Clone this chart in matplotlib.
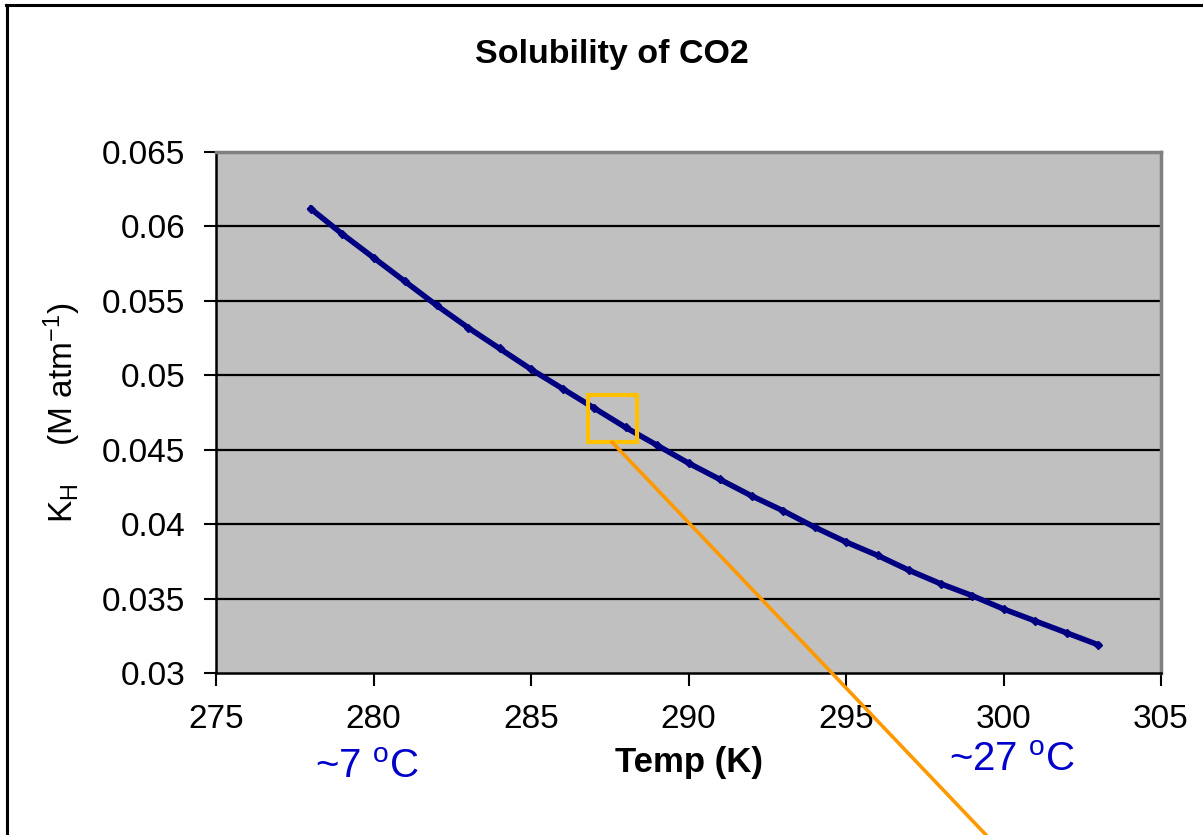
import matplotlib.pyplot as plt
from matplotlib.lines import Line2D
from matplotlib.patches import Rectangle

# solubility of CO2 (Henry constant vs temperature)
temp_k = [278, 279, 280, 281, 282, 283, 284, 285, 286, 287, 288, 289, 290,
          291, 292, 293, 294, 295, 296, 297, 298, 299, 300, 301, 302, 303]
k_h = [0.0612, 0.0595, 0.0579, 0.0563, 0.0547, 0.0532, 0.0518, 0.0504,
       0.0491, 0.0478, 0.0465, 0.0453, 0.0441, 0.0430, 0.0419, 0.0409,
       0.0398, 0.0388, 0.0379, 0.0369, 0.0360, 0.0352, 0.0343, 0.0335,
       0.0327, 0.0319]

xticks = [275, 280, 285, 290, 295, 300, 305]
yticks = [0.03, 0.035, 0.04, 0.045, 0.05, 0.055, 0.06, 0.065]
ytick_labels = ['0.03', '0.035', '0.04', '0.045', '0.05', '0.055', '0.06', '0.065']

# zoom box on the curve
box_x = (286.8, 288.35)
box_y = (0.0455, 0.0487)

plt.rcParams['font.family'] = ['Liberation Sans', 'DejaVu Sans']
plt.rcParams['mathtext.fontset'] = 'custom'
plt.rcParams['mathtext.rm'] = 'Liberation Sans'
plt.rcParams['mathtext.it'] = 'Liberation Sans'


def main():
    fig = plt.figure(figsize=(12.03, 8.35), dpi=100)
    ax = fig.add_axes([0.1796, 0.194, 0.7855, 0.624])
    ax.set_facecolor('#C0C0C0')

    ax.plot(temp_k, k_h, color='#000080', lw=4, marker='D', ms=4.5,
            zorder=3)

    ax.set_xlim(275, 305)
    ax.set_ylim(0.03, 0.065)
    ax.set_xticks(xticks)
    ax.set_yticks(yticks)
    ax.set_yticklabels(ytick_labels)
    ax.tick_params(direction='out', length=9, width=1.5, labelsize=24,
                   pad=13, color='black')

    for y in yticks[1:-1]:
        ax.axhline(y, color='black', lw=1.6, zorder=1)

    ax.spines['left'].set_color('black')
    ax.spines['bottom'].set_color('black')
    ax.spines['left'].set_linewidth(1.8)
    ax.spines['bottom'].set_linewidth(1.8)
    ax.spines['top'].set_color('#808080')
    ax.spines['right'].set_color('#808080')
    ax.spines['top'].set_linewidth(2.5)
    ax.spines['right'].set_linewidth(2.5)

    fig.text(0.509, 0.935, 'Solubility of CO2', fontsize=24.5,
             fontweight='bold', ha='center', va='center')
    ax.set_xlabel('Temp (K)', fontsize=25, fontweight='bold', labelpad=8)
    ax.set_ylabel(r'K$_\mathregular{H}$    (M atm$^\mathregular{-1}$)',
                  fontsize=24, labelpad=14)

    # orange box and the line leaving it
    ax.add_patch(Rectangle((box_x[0], box_y[0]), box_x[1] - box_x[0],
                           box_y[1] - box_y[0], fill=False,
                           edgecolor='#FFC000', lw=3, zorder=4))
    xc = (box_x[0] + box_x[1]) / 2
    ax.add_line(Line2D([xc, 301.3], [box_y[0], 0.015], color='#FF9900',
                       lw=2.6, clip_on=False, zorder=4))

    fig.text(0.262, 0.081, r'~7 $^\mathregular{o}$C', color='#0000CC',
             fontsize=29, ha='left', va='center')
    fig.text(0.789, 0.09, r'~27 $^\mathregular{o}$C', color='#0000CC',
             fontsize=29, ha='left', va='center')

    # outer chart frame
    fig.add_artist(Line2D([0.006, 0.006], [0.0, 0.994], color='black',
                          lw=2.2, transform=fig.transFigure))
    fig.add_artist(Line2D([0.005, 1.0], [0.994, 0.994], color='black',
                          lw=2.2, transform=fig.transFigure))

    fig.savefig('out.png', dpi=100)


if __name__ == "__main__":
    main()
